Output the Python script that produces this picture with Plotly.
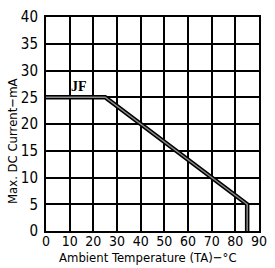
import plotly.graph_objects as go

temp = [0, 25, 85, 85]
current = [25, 25, 5, 0]
x_ticks = [0, 10, 20, 30, 40, 50, 60, 70, 80, 90]
y_ticks = [0, 5, 10, 15, 20, 25, 30, 35, 40]
series_label = "JF"
x_title = "Ambient Temperature (TA)−°C"
y_title = "Max. DC Current−mA"

font_fam = "DejaVu Sans Condensed, Liberation Sans Narrow, sans-serif"

fig = go.Figure()
fig.add_trace(go.Scatter(x=temp, y=current, mode="lines",
                         line=dict(color="black", width=4.5), hoverinfo="skip", showlegend=False))
fig.add_trace(go.Scatter(x=temp, y=current, mode="lines",
                         line=dict(color="#8a8a8a", width=1.5), hoverinfo="skip", showlegend=False))
fig.add_annotation(x=13.8, y=27, text="<b>" + series_label + "</b>", showarrow=False,
                   font=dict(family="Liberation Serif, DejaVu Serif, serif", size=14, color="black"))
fig.add_annotation(xref="paper", yref="paper", x=0.48, y=-0.125, yanchor="middle", xanchor="center",
                   text=x_title, showarrow=False, font=dict(size=13, family=font_fam, color="black"))
fig.add_annotation(xref="paper", yref="paper", x=-0.16, y=0.42, yanchor="middle", xanchor="center",
                   text=y_title, textangle=-90, showarrow=False,
                   font=dict(size=13, family=font_fam, color="black"))

fig.update_layout(
    width=275, height=268,
    margin=dict(l=46, r=8, t=11, b=37),
    plot_bgcolor="white", paper_bgcolor="white",
    font=dict(family=font_fam, color="black"),
)
fig.update_xaxes(range=[0, 90], tickvals=x_ticks, showgrid=True, gridcolor="black", gridwidth=1.5,
                 showline=True, linecolor="black", linewidth=2, mirror=True, zeroline=False,
                 ticks="", ticklabelstandoff=-4, tickfont=dict(size=14, family=font_fam))
fig.update_yaxes(range=[0, 40], tickvals=y_ticks, showgrid=True, gridcolor="black", gridwidth=1.5,
                 showline=True, linecolor="black", linewidth=2, mirror=True, zeroline=False,
                 ticks="outside", ticklen=3, tickcolor="white", tickfont=dict(size=15, family=font_fam))

fig.write_html("out.html", config={"displayModeBar": False},
               post_script="document.body.style.margin='0';document.body.style.padding='0';")
